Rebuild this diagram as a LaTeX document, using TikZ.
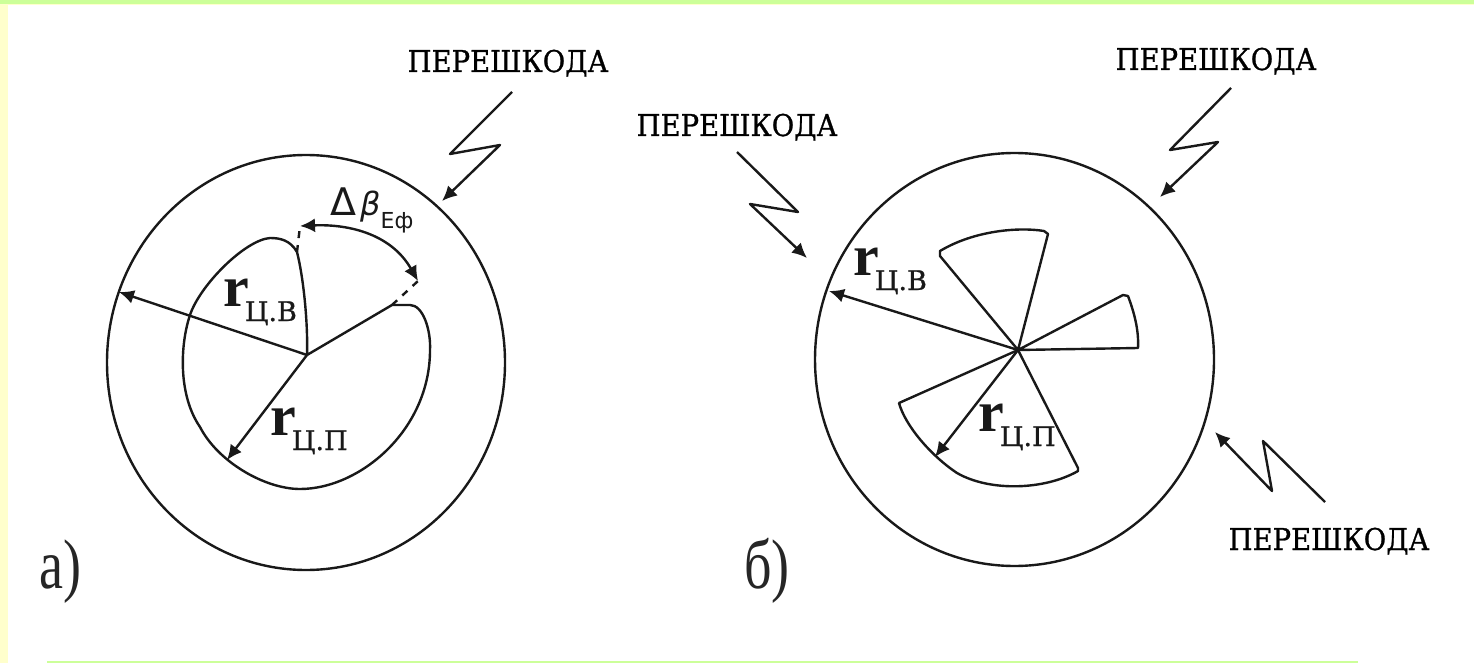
\documentclass[tikz,border=0pt]{standalone}
\usepackage{fontspec}
\setmainfont{Liberation Serif}
\newfontfamily\slabf[FakeBold=0.9]{DejaVu Serif}
\newfontfamily\sansf{DejaVu Sans}
\usetikzlibrary{arrows.meta}
\definecolor{stripgreen}{HTML}{CCFF99}
\definecolor{stripyellow}{HTML}{FFFFCC}
\tikzset{
  x=1pt,y=-1pt,
  ln/.style={draw=black!90,line width=2.4pt,line join=round},
  arr/.style={ln,-{Latex[length=15pt,width=14pt]}},
  dbl/.style={ln,{Latex[length=15pt,width=14pt]}-{Latex[length=15pt,width=14pt]}},
  dsh/.style={ln,dash pattern=on 7pt off 7pt},
  noise/.style={font=\slabf\fontsize{30}{30}\selectfont,inner sep=0pt,anchor=base,text=black},
  lab/.style={inner sep=0pt,anchor=base west,text=black!90},
  side/.style={inner sep=0pt,anchor=base,font=\fontsize{54}{54}\selectfont,text=black!85}
}
\newcommand{\rlab}[1]{{\fontsize{58}{58}\selectfont\bfseries r}\kern-4pt\raisebox{-15pt}{\slabf\fontsize{27}{27}\selectfont #1}}
\newcommand{\pereshkoda}{\scalebox{0.915}[1]{ПЕРЕШКОДА}}
\begin{document}
\begin{tikzpicture}
\useasboundingbox (0,0) rectangle (1474,663);
\fill[white] (0,0) rectangle (1474,663);
\fill[stripyellow] (0,0) rectangle (1474,5);
\fill[stripgreen] (0,0) rectangle (1474,4);
\fill[stripyellow] (0,4) rectangle (8,663);
\fill[stripgreen] (47,660.5) rectangle (1358,663);

% --- panel a
\coordinate (ca) at (307,355);
\draw[ln] (306,362.5) ellipse [x radius=199,y radius=207.5];
\coordinate (aB) at (297,252);
\coordinate (aE) at (392,305);
\coordinate (aV) at (119,292);
\coordinate (aP) at (227,460);
\draw[ln] (ca) .. controls (308,325) and (304,280) .. (aB)
  .. controls (290,240) and (280,238) .. (270,238)
  .. controls (245,240) and (200,285) .. (190,315)
  .. controls (180,345) and (178,395) .. (200,427)
  .. controls (218,462) and (265,489) .. (300,489)
  .. controls (360,489) and (430,430) .. (430,350)
  .. controls (431,330) and (423,305) .. (410,305)
  -- (aE) -- (ca);
\draw[arr] (ca) -- (aV);
\draw[arr] (ca) -- (aP);
\coordinate (aDa) at (300,226);
\coordinate (aDb) at (418,281);
\draw[dsh] (aB) -- (aDa);
\draw[dsh] (aE) -- (aDb);
\draw[dbl] (aDa) .. controls (345,224) and (390,232) .. (aDb);
\node[lab] (rva) at (223,306) {\rlab{Ц.В}};
\node[lab] (rpa) at (270,435) {\rlab{Ц.П}};
\node[lab] (dbeta) at (330,215) {\sansf\fontsize{38}{38}\selectfont Δ\kern4pt\fontsize{32}{32}\selectfont\itshape β\upshape\raisebox{-13pt}{\fontsize{22}{22}\selectfont Еф}};
\node[noise] (na) at (508,72) {\pereshkoda};
\coordinate (a1) at (512,92);
\coordinate (a2) at (450,154);
\coordinate (a3) at (500,145);
\coordinate (a4) at (442,201);
\draw[arr] (a1) -- (a2) -- (a3) -- (a4);
\node[side] (lba) at (60,588) {\scalebox{1}[1.3]{а)}};

% --- panel b
\coordinate (cb) at (1018,350);
\draw[ln] (1014.5,359.5) ellipse [x radius=199.5,y radius=206.5];
\coordinate (bU1) at (1048,234);
\coordinate (bU2) at (940,256);
\draw[ln] (cb) -- (bU1) -- (1044,231) .. controls (1020,227) and (975,230) .. (940,251) -- (bU2) -- (cb);
\coordinate (bR1) at (1123,295);
\coordinate (bR2) at (1138,348);
\draw[ln] (cb) -- (bR1) -- (1128,296) .. controls (1134,312) and (1139,330) .. (bR2) -- (cb);
\coordinate (bL1) at (1078,468);
\coordinate (bL2) at (899,403);
\coordinate (bP) at (935,457);
\coordinate (bV) at (829,291);
\draw[ln] (cb) -- (bL1) -- (1078,471) .. controls (1045,490) and (990,492) .. (957,473)
  .. controls (930,455) and (905,425) .. (bL2) -- (cb);
\draw[arr] (cb) -- (bV);
\draw[arr] (cb) -- (bP);
\node[lab] (rvb) at (853,275) {\rlab{Ц.В}};
\node[lab] (rpb) at (978,431) {\rlab{Ц.П}};

\node[noise] (nb1) at (1216,70) {\pereshkoda};
\coordinate (b11) at (1231,88);
\coordinate (b12) at (1170,150);
\coordinate (b13) at (1218,142);
\coordinate (b14) at (1160,197);
\draw[arr] (b11) -- (b12) -- (b13) -- (b14);

\node[noise] (nb2) at (737,136) {\pereshkoda};
\coordinate (b21) at (737,152);
\coordinate (b22) at (798,212);
\coordinate (b23) at (750,204);
\coordinate (b24) at (807,258);
\draw[arr] (b21) -- (b22) -- (b23) -- (b24);

\node[noise] (nb3) at (1329,550) {\pereshkoda};
\coordinate (b31) at (1325,502);
\coordinate (b32) at (1263,441);
\coordinate (b33) at (1272,491);
\coordinate (b34) at (1215,432);
\draw[arr] (b31) -- (b32) -- (b33) -- (b34);
\node[side] (lbb) at (767,588) {\scalebox{1}[1.3]{б)}};
\end{tikzpicture}
\end{document}
